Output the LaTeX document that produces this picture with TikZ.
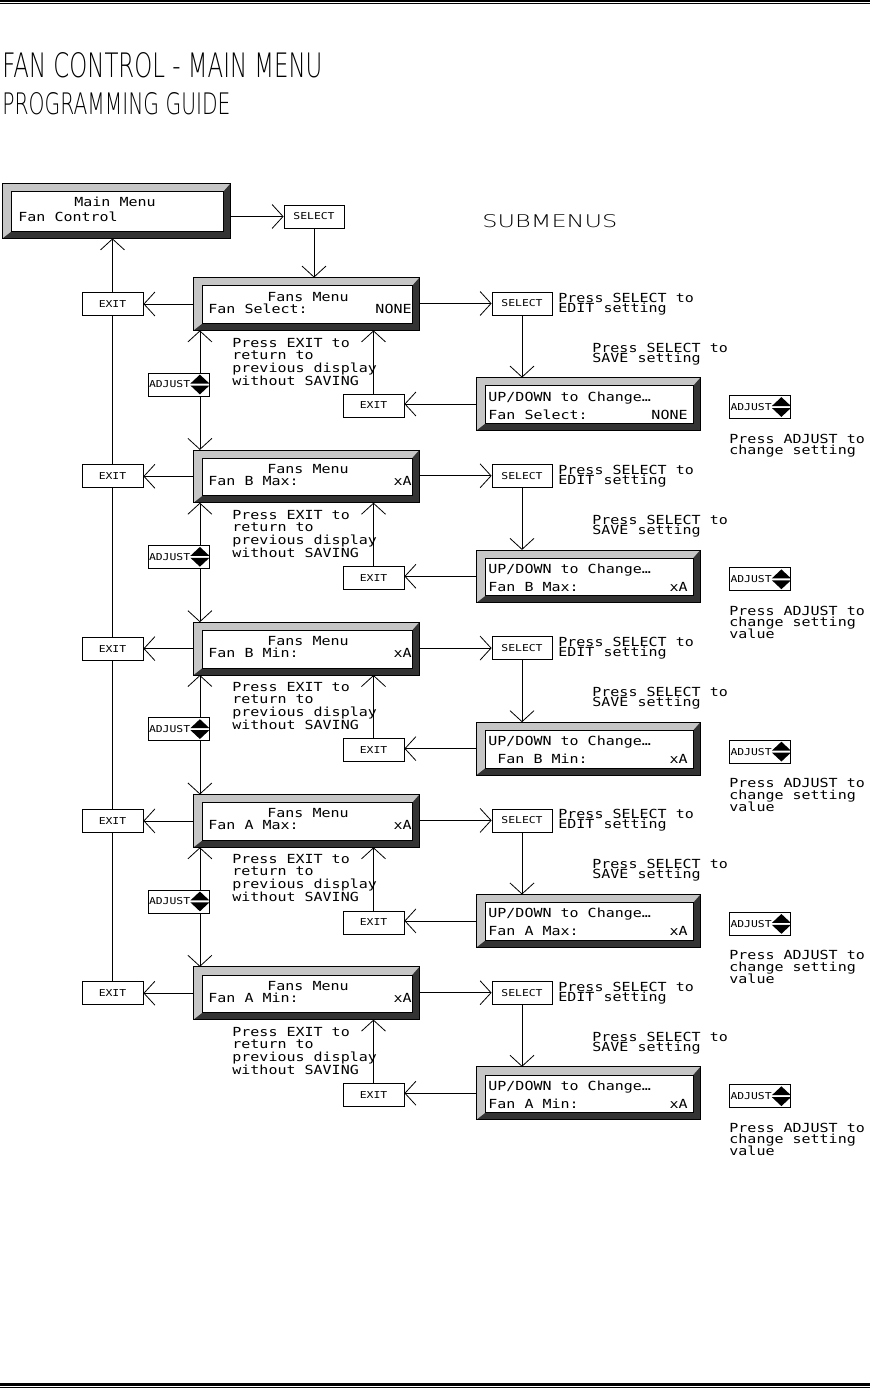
\documentclass[tikz,border=0pt]{standalone}
\usepackage{fontspec}
\setmainfont{DejaVu Sans Mono}[FakeStretch=1.2]
\newfontfamily\thinf{DejaVu Sans ExtraLight}
\usetikzlibrary{arrows.meta,calc}
\newcommand\lcdframe[1]{%
  \fill[gray!45] (#1.north west) rectangle (#1.south east);
  \fill[black!80] (#1.south west) -- (#1.south east) -- (#1.north east)
     -- ($(#1.north east)+(-7,8)$) -- ($(#1.south east)+(-7,-7)$)
     -- ($(#1.south west)+(9,-7)$) -- cycle;
  \draw[line width=0.6pt, fill=white] ($(#1.north west)+(9,8)$) rectangle ($(#1.south east)+(-7,-7)$);
  \draw[line width=0.8pt] (#1.north west) rectangle (#1.south east);}
\newcommand\adjbtn[3]{%
  \node[draw, fill=white, minimum width=61pt, minimum height=23pt, inner sep=0pt] (#1) at (#2,#3) {};
  \node[anchor=west, inner sep=0pt, font=\fontsize{9.5}{11}\selectfont] (#1t) at ($(#1.west)+(1,0)$) {ADJUST};
  \fill ($(#1.east)+(-19,-1)$) -- ($(#1.east)+(0,-1)$) -- ($(#1.north east)+(-9.5,2)$) -- cycle;
  \fill ($(#1.east)+(-19,1)$) -- ($(#1.east)+(0,1)$) -- ($(#1.south east)+(-9.5,-2)$) -- cycle;}
\begin{document}
\begin{tikzpicture}[x=1pt,y=-1pt, line width=0.8pt,
  arr/.style={-{Straight Barb[length=11pt,width=24pt]}},
  btn/.style={draw, fill=white, minimum width=61pt, minimum height=23pt, inner sep=0pt, font=\fontsize{9.5}{11}\selectfont},
  txt/.style={anchor=base west, inner sep=0pt, font=\fontsize{12.5}{13}\selectfont},
  lcd/.style={minimum width=225pt, minimum height=52pt, inner sep=0pt},
  sub/.style={minimum width=223pt, minimum height=52pt, inner sep=0pt}]
\useasboundingbox (0,0) rectangle (870,1388);
% page rules
\draw[line width=2.4pt] (0,1.2) -- (870,1.2);
\draw[line width=1pt] (0,3.9) -- (870,3.9);
\draw[line width=2.4pt] (0,1384.6) -- (870,1384.6);
\draw[line width=1pt] (0,1387.3) -- (870,1387.3);
% titles
\node[anchor=base west, inner sep=0pt] (t1) at (2,78) {\resizebox{320pt}{25pt}{\thinf FAN CONTROL - MAIN MENU}};
\node[anchor=base west, inner sep=0pt] (t2) at (2,115) {\resizebox{228pt}{22pt}{\thinf PROGRAMMING GUIDE}};
\node[anchor=base west, inner sep=0pt] (t3) at (482,228) {\resizebox{135pt}{13pt}{\thinf SUBMENUS}};
% main menu
\node[minimum width=227pt, minimum height=54pt, inner sep=0pt] (mm) at (116.5,211) {};
\lcdframe{mm}
\node[txt, anchor=base] (mmt) at (115,207) {Main Menu};
\node[txt] (mmf) at (18,222) {Fan Control};
\node[btn, minimum width=60pt] (sel) at (314,216.5) {SELECT};
\draw[arr] (mm.east |- sel.west) -- (sel.west);
% rows
\foreach \i/\lab/\val/\subx in {0/Fan Select:/NONE/488, 1/Fan B Max:/xA/488, 2/Fan B Min:/xA/497, 3/Fan A Max:/xA/488, 4/Fan A Min:/xA/488}{
  \pgfmathsetmacro\dy{172.3*\i}
  \node[lcd] (f\i) at (306.5,{304+\dy}) {};
  \lcdframe{f\i}
  \node[txt, anchor=base] (fm\i) at (308,{301+\dy}) {Fans Menu};
  \node[txt] (fl\i) at (208,{313+\dy}) {\lab};
  \node[txt, anchor=base east] (fv\i) at (412,{313+\dy}) {\val};
  \node[btn] (le\i) at (112.5,{304+\dy}) {EXIT};
  \draw[arr] (f\i.west) -- (le\i.east);
  \node[btn, minimum width=60pt] (rs\i) at (522,{303.5+\dy}) {SELECT};
  \draw[arr] (f\i.east |- rs\i.west) -- (rs\i.west);
  \node[txt] (pe\i) at (558,{302+\dy}) {Press SELECT to};
  \node[txt] (pf\i) at (558,{312+\dy}) {EDIT setting};
  \node[txt] (ps\i) at (592,{352+\dy}) {Press SELECT to};
  \node[txt] (pv\i) at (592,{362+\dy}) {SAVE setting};
  \node[sub] (s\i) at (588.5,{404+\dy}) {};
  \lcdframe{s\i}
  \node[txt] (su\i) at (488,{401+\dy}) {UP/DOWN to Change…};
  \node[txt] (sl\i) at (\subx,{419+\dy}) {\lab};
  \node[txt, anchor=base east] (sv\i) at (688,{419+\dy}) {\val};
  \draw[arr] (rs\i.south) -- (rs\i.south |- s\i.north);
  \node[btn] (me\i) at (373.5,{405.5+\dy}) {EXIT};
  \draw[arr] (s\i.west) -- (s\i.west -| me\i.east);
  \draw[arr] (me\i.north) -- (me\i.north |- f\i.south);
  \node[txt] (xa\i) at (232,{347+\dy}) {Press EXIT to};
  \node[txt] (xb\i) at (232,{359+\dy}) {return to};
  \node[txt] (xc\i) at (232,{372+\dy}) {previous display};
  \node[txt] (xd\i) at (232,{385+\dy}) {without SAVING};
  \adjbtn{ra\i}{760}{407+\dy}
  \node[txt] (aa\i) at (729,{443+\dy}) {Press ADJUST to};
  \node[txt] (ab\i) at (729,{454.5+\dy}) {change setting};
}
\foreach \i in {1,...,4}{
  \pgfmathsetmacro\dy{172.3*\i}
  \node[txt] (ac\i) at (729,{466.5+\dy}) {value};
}
\draw[arr] (sel.south) -- (sel.south |- f0.north);
\draw[arr] (le0.north) -- (le0.north |- mm.south);
\foreach \i in {0,...,3}{
  \pgfmathsetmacro\dy{172.3*\i}
  \pgfmathtruncatemacro\j{\i+1}
  \draw (le\j.north) -- (le\i.south);
  \adjbtn{la\i}{178.5}{384.5+\dy}
  \coordinate (lat\i) at ($(la\i.north east)+(-9.5,0)$);
  \coordinate (lab\i) at ($(la\i.south east)+(-9.5,0)$);
  \draw[arr] (lat\i) -- (lat\i |- f\i.south);
  \draw[arr] (lab\i) -- (lab\i |- f\j.north);
}
\end{tikzpicture}
\end{document}
